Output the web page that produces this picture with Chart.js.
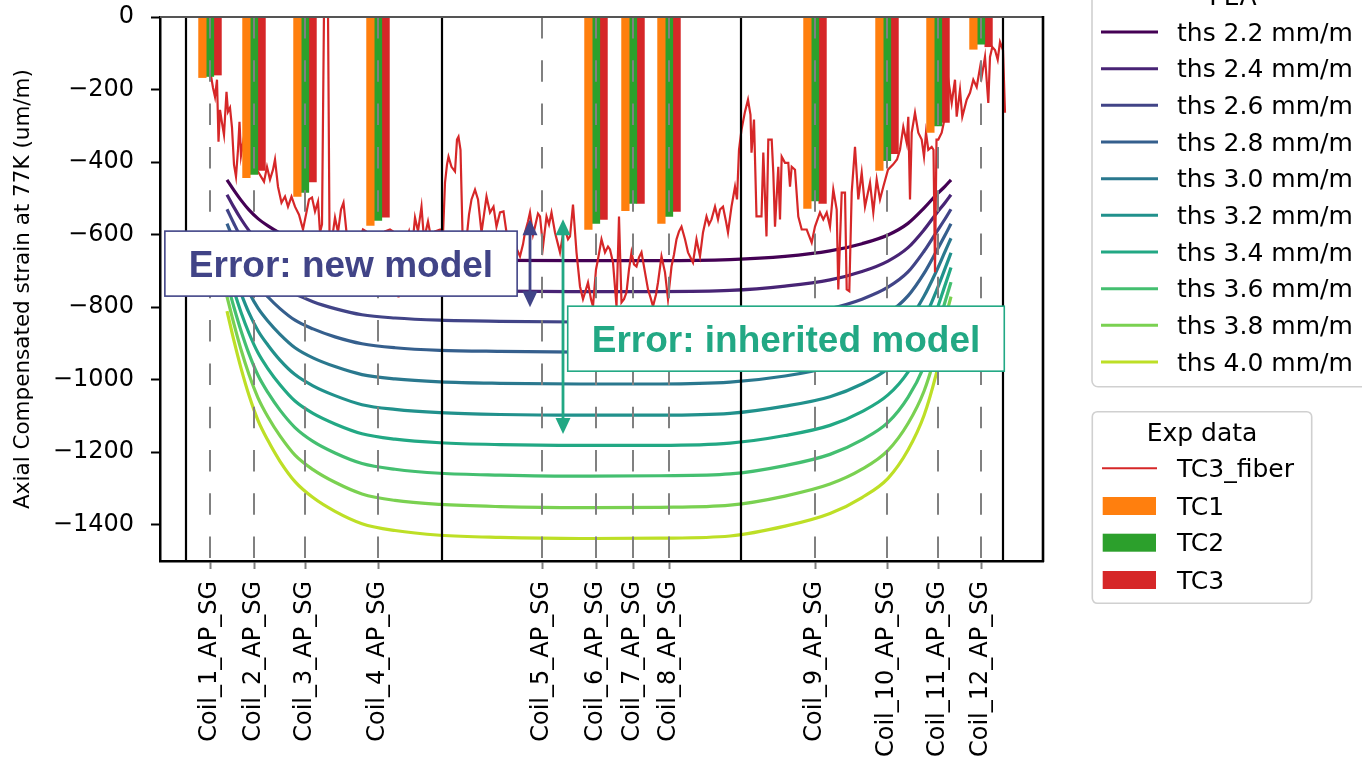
<!DOCTYPE html>
<html>
<head>
<meta charset="utf-8">
<title>Axial compensated strain at 77K</title>
<script src="https://cdn.jsdelivr.net/npm/chart.js@4.4.1/dist/chart.umd.min.js"></script>
<style>
  html, body { margin: 0; padding: 0; background: #fff; }
  canvas { display: block; }
</style>
</head>
<body>
<canvas id="strain" width="1362" height="765"></canvas>
<script>
// strain gauges along the magnet (x in axis units)
const sensorNames = ['Coil_1_AP_SG', 'Coil_2_AP_SG', 'Coil_3_AP_SG', 'Coil_4_AP_SG',
  'Coil_5_AP_SG', 'Coil_6_AP_SG', 'Coil_7_AP_SG', 'Coil_8_AP_SG',
  'Coil_9_AP_SG', 'Coil_10_AP_SG', 'Coil_11_AP_SG', 'Coil_12_AP_SG'];
const sensorPos = [50, 94, 145, 218, 382, 436, 473, 509, 655, 727, 778, 821];
const coilEdges = [26, 282, 581, 843];

// measured strain per thermal cycle (coil 5 has no gauge reading)
const tc1 = [-167, -443, -495, -575, null, -586, -534, -569, -528, -423, -318, -89];
const tc2 = [-164, -434, -484, -561, null, -569, -514, -550, -507, -396, -300, -75];
const tc3 = [-160, -423, -455, -552, null, -558, -514, -536, -514, -377, -291, -82];

// FEA curves, one per thickness
const feaPos = [67, 74, 81, 89, 98, 108, 120, 135, 153, 175, 202, 235, 280, 340, 420, 500, 570, 625, 670, 702, 728, 748, 764, 776, 785, 791];
const ths22 = [-449, -478, -505, -532, -556, -576, -596, -616, -632, -645, -658, -664, -669, -671, -672, -672, -669, -660, -645, -625, -601, -569, -527, -491, -467, -449];
const ths24 = [-490, -525, -557, -589, -618, -642, -666, -690, -709, -725, -740, -748, -753, -756, -757, -757, -754, -742, -725, -702, -673, -636, -587, -543, -512, -490];
const ths26 = [-530, -570, -608, -645, -679, -707, -735, -763, -785, -804, -821, -830, -836, -839, -841, -841, -837, -824, -804, -778, -745, -703, -646, -595, -557, -530];
const ths28 = [-570, -616, -659, -701, -740, -772, -804, -836, -860, -882, -901, -912, -919, -922, -924, -924, -920, -905, -883, -853, -817, -769, -707, -648, -602, -570];
const ths30 = [-610, -662, -711, -759, -803, -839, -875, -912, -940, -964, -986, -998, -1006, -1010, -1012, -1012, -1007, -990, -965, -933, -893, -840, -770, -703, -647, -610];
const ths32 = [-650, -708, -762, -816, -865, -905, -946, -986, -1017, -1044, -1069, -1082, -1091, -1096, -1098, -1098, -1093, -1073, -1047, -1012, -969, -909, -834, -758, -694, -650];
const ths34 = [-691, -755, -814, -872, -926, -970, -1014, -1059, -1093, -1122, -1149, -1164, -1174, -1179, -1181, -1181, -1175, -1154, -1126, -1088, -1042, -979, -898, -814, -740, -691];
const ths36 = [-731, -801, -865, -929, -988, -1036, -1084, -1132, -1170, -1202, -1231, -1247, -1258, -1263, -1266, -1265, -1260, -1237, -1206, -1166, -1118, -1049, -964, -870, -786, -731];
const ths38 = [-771, -847, -917, -986, -1050, -1103, -1155, -1208, -1248, -1283, -1315, -1333, -1344, -1350, -1353, -1352, -1346, -1321, -1288, -1247, -1195, -1121, -1032, -928, -833, -771];
const ths40 = [-811, -893, -968, -1043, -1112, -1168, -1225, -1281, -1325, -1363, -1397, -1416, -1429, -1435, -1438, -1437, -1431, -1404, -1369, -1325, -1272, -1194, -1099, -987, -880, -811];
const feaSeries = [ths22, ths24, ths26, ths28, ths30, ths32, ths34, ths36, ths38, ths40];
const feaLabels = ['ths 2.2 mm/m', 'ths 2.4 mm/m', 'ths 2.6 mm/m', 'ths 2.8 mm/m', 'ths 3.0 mm/m',
  'ths 3.2 mm/m', 'ths 3.4 mm/m', 'ths 3.6 mm/m', 'ths 3.8 mm/m', 'ths 4.0 mm/m'];
const feaColors = ['#440154', '#482475', '#414487', '#355f8d', '#2a788e',
  '#21918c', '#22a884', '#44bf70', '#7ad151', '#bddf26'];

// TC3 fiber trace
const fiberPos = [
  45, 51, 53, 55, 57, 58.5, 60, 62, 64, 66.5,
  68, 70, 72, 74, 76, 78, 79.5, 81, 83, 85,
  90, 98, 104, 107, 110, 113, 115, 118, 121.5, 125,
  128, 131.5, 135, 139, 143, 146, 149, 152, 155, 158,
  160, 162, 164, 168, 169.5, 172, 175, 178, 181, 183.5,
  186.5, 190, 194, 198, 203, 206, 210, 218, 225, 230,
  233, 236, 238.5, 242, 246, 249, 252, 255, 258, 261.5,
  264, 268, 271, 275, 280, 283, 285, 287, 288.5, 291.5,
  295, 297, 298.5, 300.5, 302.5, 306.5, 309, 311.5, 315, 318,
  321.5, 324, 326.5, 330, 333.5, 336.5, 340, 343.5, 346.5, 350,
  354, 357, 360, 363, 365, 368, 370, 373, 375, 378,
  380, 383, 386.5, 389, 391.5, 395, 398, 400, 403, 405,
  408, 410, 413, 416.5, 420, 423, 426, 428, 431, 433,
  436, 438, 441.5, 445, 448, 450, 453, 456.5, 459, 461.5,
  464, 466.5, 469, 471.5, 474, 476.5, 479, 481.5, 485, 488,
  491, 493, 496, 498, 501.5, 505, 508, 511.5, 514, 516.5,
  519, 521.5, 525, 528, 533, 536.5, 540, 543, 546.5, 549,
  551.5, 555, 558, 560, 563, 566, 568, 571.5, 575, 577,
  579, 581.5, 585, 588, 590.5, 591.5, 594, 596.5, 601.5, 603.3,
  606.5, 608.3, 611.7, 613.3, 615, 618.3, 620, 621.7, 625, 628.3,
  630, 631.7, 635, 638.3, 641.7, 646.7, 651.7, 655, 660, 663.3,
  666.7, 670, 673.3, 676.7, 678.3, 681.7, 685, 686.7, 689.3, 691.7,
  695, 698.3, 701.7, 705, 710, 713.3, 716.7, 720, 723.3, 728,
  733, 737, 740, 743.3, 746.7, 748.3, 750, 751.7, 755, 758.3,
  761.7, 764, 766, 768.3, 771.7, 773.5, 775, 776.5, 778.3, 781.7,
  785, 788.3, 791.7, 795, 796.7, 800, 802.3, 806.7, 810, 813.3,
  816.7, 820, 821.7, 825, 828.3, 830, 832.3, 835, 837.7, 840,
  843, 845];
const fiberStrain = [
  -157, -162, -195, -220, -173, -344, -256, -292, -325, -206,
  -261, -250, -305, -407, -440, -366, -289, -382, -347, -393,
  -415, -426, -454, -413, -448, -421, -393, -468, -512, -495,
  -523, -495, -523, -545, -586, -545, -503, -498, -536, -509,
  -594, -572, 19, 19, -594, -613, -553, -594, -531, -512,
  -594, -622, -668, -627, -586, -591, -608, -627, -591, -586,
  -591, -641, -773, -641, -613, -591, -641, -553, -591, -523,
  -613, -564, -608, -591, -586, -600, -457, -407, -385, -413,
  -426, -338, -330, -366, -594, -613, -545, -503, -476, -503,
  -594, -545, -495, -539, -523, -578, -539, -536, -594, -613,
  -600, -641, -660, -627, -594, -564, -539, -600, -578, -542,
  -550, -633, -550, -572, -539, -594, -627, -649, -600, -586,
  -613, -605, -517, -649, -743, -778, -751, -732, -778, -798,
  -696, -668, -613, -649, -633, -641, -677, -798, -550, -787,
  -778, -759, -696, -649, -682, -688, -663, -649, -704, -751,
  -778, -798, -765, -732, -660, -704, -778, -688, -655, -613,
  -591, -578, -613, -649, -677, -613, -660, -594, -550, -572,
  -558, -523, -558, -531, -523, -564, -594, -523, -468, -503,
  -366, -311, -261, -228, -270, -374, -283, -550, -550, -374,
  -605, -338, -338, -429, -578, -413, -558, -385, -402, -402,
  -468, -413, -421, -550, -586, -586, -622, -578, -539, -558,
  -539, -578, -476, -531, -751, -484, -484, -751, -756, -484,
  -358, -503, -429, -523, -457, -539, -448, -503, -468, -421,
  -407, -393, -366, -303, -347, -275, -503, -319, -264, -319,
  -338, -385, -319, -366, -358, -366, -704, -338, -338, -319,
  -275, -173, -237, -173, -275, -201, -275, -228, -209, -173,
  -193, -140, -165, -110, -237, -110, -83, -91, -118, -69,
  -91, -264];

const yTicks = [0, -200, -400, -600, -800, -1000, -1200, -1400];

// annotations (data coordinates)
const notes = [
  { text: 'Error: new model', x: 181, y: -680, color: '#414487', arrowX: 370, top: -558, bottom: -800 },
  { text: 'Error: inherited model', x: 626, y: -887, color: '#22a884', arrowX: 403, top: -558, bottom: -1150 }
];

Chart.defaults.font.family = '"DejaVu Sans"';
Chart.defaults.color = '#000';

function barData(vals) {
  const out = [];
  vals.forEach((v, i) => { if (v !== null) out.push({ x: sensorPos[i], y: v }); });
  return out;
}

const datasets = [];
[['TC1', tc1, '#ff7f0e'], ['TC2', tc2, '#2ca02c'], ['TC3', tc3, '#d62728']].forEach(([name, vals, col]) => {
  datasets.push({
    type: 'bar', label: name, data: barData(vals),
    backgroundColor: col, borderWidth: 0, barThickness: 7.6, order: 0
  });
});
datasets.push({
  type: 'line', label: 'TC3_fiber',
  data: fiberPos.map((x, i) => ({ x: x, y: fiberStrain[i] })),
  borderColor: '#d62728', borderWidth: 2.2, pointRadius: 0, tension: 0, order: 1
});
feaSeries.forEach((s, k) => {
  datasets.push({
    type: 'line', label: feaLabels[k],
    data: feaPos.map((x, i) => ({ x: x, y: s[i] })),
    borderColor: feaColors[k], borderWidth: 3.2, pointRadius: 0,
    cubicInterpolationMode: 'monotone', order: 2
  });
});

function roundBox(ctx, x, y, w, h, r) {
  ctx.beginPath();
  ctx.moveTo(x + r, y);
  ctx.lineTo(x + w - r, y);
  ctx.arcTo(x + w, y, x + w, y + r, r);
  ctx.lineTo(x + w, y + h - r);
  ctx.arcTo(x + w, y + h, x + w - r, y + h, r);
  ctx.lineTo(x + r, y + h);
  ctx.arcTo(x, y + h, x, y + h - r, r);
  ctx.lineTo(x, y + r);
  ctx.arcTo(x, y, x + r, y, r);
  ctx.closePath();
}

const overlay = {
  id: 'overlay',
  afterDatasetsDraw(chart) {
    const { ctx, chartArea: a, scales: { x, y } } = chart;
    ctx.save();
    ctx.beginPath();
    ctx.rect(a.left, a.top, a.right - a.left, a.bottom - a.top);
    ctx.clip();
    // gauge positions
    ctx.strokeStyle = '#808080';
    ctx.lineWidth = 2;
    ctx.setLineDash([21.5, 21.8]);
    sensorPos.forEach(v => {
      const px = x.getPixelForValue(v);
      ctx.beginPath(); ctx.moveTo(px, a.top); ctx.lineTo(px, a.bottom); ctx.stroke();
    });
    ctx.setLineDash([]);
    // coil boundaries
    ctx.strokeStyle = '#000';
    ctx.lineWidth = 2.2;
    coilEdges.forEach(v => {
      const px = x.getPixelForValue(v);
      ctx.beginPath(); ctx.moveTo(px, a.top); ctx.lineTo(px, a.bottom); ctx.stroke();
    });
    ctx.restore();

    // error boxes and arrows
    ctx.save();
    notes.forEach(n => {
      const cx = x.getPixelForValue(n.x), cy = y.getPixelForValue(n.y);
      ctx.font = 'bold 37px "Liberation Sans", Arial, sans-serif';
      const w = ctx.measureText(n.text).width + 48, h = 65;
      ctx.fillStyle = '#fff';
      ctx.fillRect(cx - w / 2, cy - h / 2, w, h);
      ctx.strokeStyle = n.color; ctx.lineWidth = 1.6;
      ctx.strokeRect(cx - w / 2, cy - h / 2, w, h);
      ctx.fillStyle = n.color;
      ctx.textAlign = 'center'; ctx.textBaseline = 'alphabetic';
      ctx.fillText(n.text, cx, cy + 13.5);

      const ax = x.getPixelForValue(n.arrowX);
      const y1 = y.getPixelForValue(n.top), y2 = y.getPixelForValue(n.bottom);
      const hl = 16, hw = 7.5;
      ctx.strokeStyle = n.color; ctx.lineWidth = 2.8;
      ctx.beginPath(); ctx.moveTo(ax, y1 + hl - 1); ctx.lineTo(ax, y2 - hl + 1); ctx.stroke();
      ctx.beginPath(); ctx.moveTo(ax, y1); ctx.lineTo(ax - hw, y1 + hl); ctx.lineTo(ax + hw, y1 + hl); ctx.closePath(); ctx.fill();
      ctx.beginPath(); ctx.moveTo(ax, y2); ctx.lineTo(ax - hw, y2 - hl); ctx.lineTo(ax + hw, y2 - hl); ctx.closePath(); ctx.fill();
    });

    // top and right spines
    ctx.strokeStyle = '#555'; ctx.lineWidth = 1.8;
    ctx.beginPath(); ctx.moveTo(a.left, a.top); ctx.lineTo(a.right, a.top); ctx.stroke();
    ctx.strokeStyle = '#000'; ctx.lineWidth = 2.6;
    ctx.beginPath(); ctx.moveTo(a.right, a.top - 1); ctx.lineTo(a.right, a.bottom + 1); ctx.stroke();
    ctx.restore();
  },
  afterDraw(chart) {
    const ctx = chart.ctx;
    ctx.save();
    ctx.font = '25px "DejaVu Sans"';
    ctx.textBaseline = 'alphabetic';

    // FEA legend
    roundBox(ctx, 1092, -40, 282, 426.7, 6);
    ctx.fillStyle = 'rgba(255,255,255,0.85)'; ctx.fill();
    ctx.strokeStyle = '#d0d0d0'; ctx.lineWidth = 1.6; ctx.stroke();
    ctx.fillStyle = '#000'; ctx.textAlign = 'center';
    ctx.fillText('FEA', 1233, 4.5);
    ctx.textAlign = 'left';
    feaLabels.forEach((t, i) => {
      const ly = 32 + i * 36.67;
      ctx.strokeStyle = feaColors[i]; ctx.lineWidth = 3;
      ctx.beginPath(); ctx.moveTo(1101, ly); ctx.lineTo(1158, ly); ctx.stroke();
      ctx.fillText(t, 1177, ly + 8.8);
    });

    // experimental legend
    roundBox(ctx, 1092.3, 411.7, 219.4, 191.6, 5);
    ctx.fillStyle = 'rgba(255,255,255,0.85)'; ctx.fill();
    ctx.strokeStyle = '#d0d0d0'; ctx.lineWidth = 1.6; ctx.stroke();
    ctx.fillStyle = '#000'; ctx.textAlign = 'center';
    ctx.fillText('Exp data', 1202, 440.7);
    ctx.textAlign = 'left';
    ctx.strokeStyle = '#d62728'; ctx.lineWidth = 2;
    ctx.beginPath(); ctx.moveTo(1102, 468.3); ctx.lineTo(1157, 468.3); ctx.stroke();
    ctx.fillText('TC3_fiber', 1177, 477.3);
    [['TC1', '#ff7f0e', 506], ['TC2', '#2ca02c', 542.7], ['TC3', '#d62728', 580]].forEach(([t, c, cy]) => {
      ctx.fillStyle = c;
      ctx.fillRect(1102.7, cy - 9, 53.3, 18);
      ctx.fillStyle = '#000';
      ctx.fillText(t, 1177, cy + 8.5);
    });
    ctx.restore();
  }
};

const strainChart = new Chart(document.getElementById('strain').getContext('2d'), {
  type: 'line',
  data: { datasets: datasets },
  options: {
    responsive: false,
    animation: false,
    layout: { padding: { left: 0, right: 319, top: 17, bottom: 0 } },
    plugins: { legend: { display: false }, tooltip: { enabled: false } },
    scales: {
      x: {
        type: 'linear', position: 'bottom', min: 0, max: 883, offset: false,
        afterBuildTicks: s => { s.ticks = sensorPos.map(v => ({ value: v })); },
        afterFit: s => { s.height = 204; },
        ticks: {
          autoSkip: false, minRotation: 90, maxRotation: 90, padding: 12,
          color: '#000', font: { size: 24 },
          callback: (v, i) => sensorNames[i]
        },
        grid: { drawOnChartArea: false, drawTicks: true, tickLength: 8, tickWidth: 2, tickColor: '#808080', offset: false },
        border: { display: true, color: '#000', width: 2.5 }
      },
      y: {
        type: 'linear', position: 'left', min: -1500, max: 0,
        afterBuildTicks: s => { s.ticks = yTicks.map(v => ({ value: v })); },
        // fixed width, and no extra room reserved for the top label
        afterFit: s => { s.width = 160; s.paddingTop = 0; s.paddingBottom = 0; },
        ticks: {
          padding: 17, color: '#000', font: { size: 24 },
          callback: v => v === 0 ? '0' : '\u2212' + Math.abs(v)
        },
        grid: { drawOnChartArea: false, drawTicks: true, tickLength: 9, tickWidth: 2, tickColor: '#000' },
        border: { display: true, color: '#000', width: 2.5 },
        title: {
          display: true, text: 'Axial Compensated strain at 77K (um/m)',
          color: '#000', font: { size: 21.5 }, padding: { top: 11, bottom: 0 }
        }
      }
    }
  },
  plugins: [overlay]
});
</script>
</body>
</html>
